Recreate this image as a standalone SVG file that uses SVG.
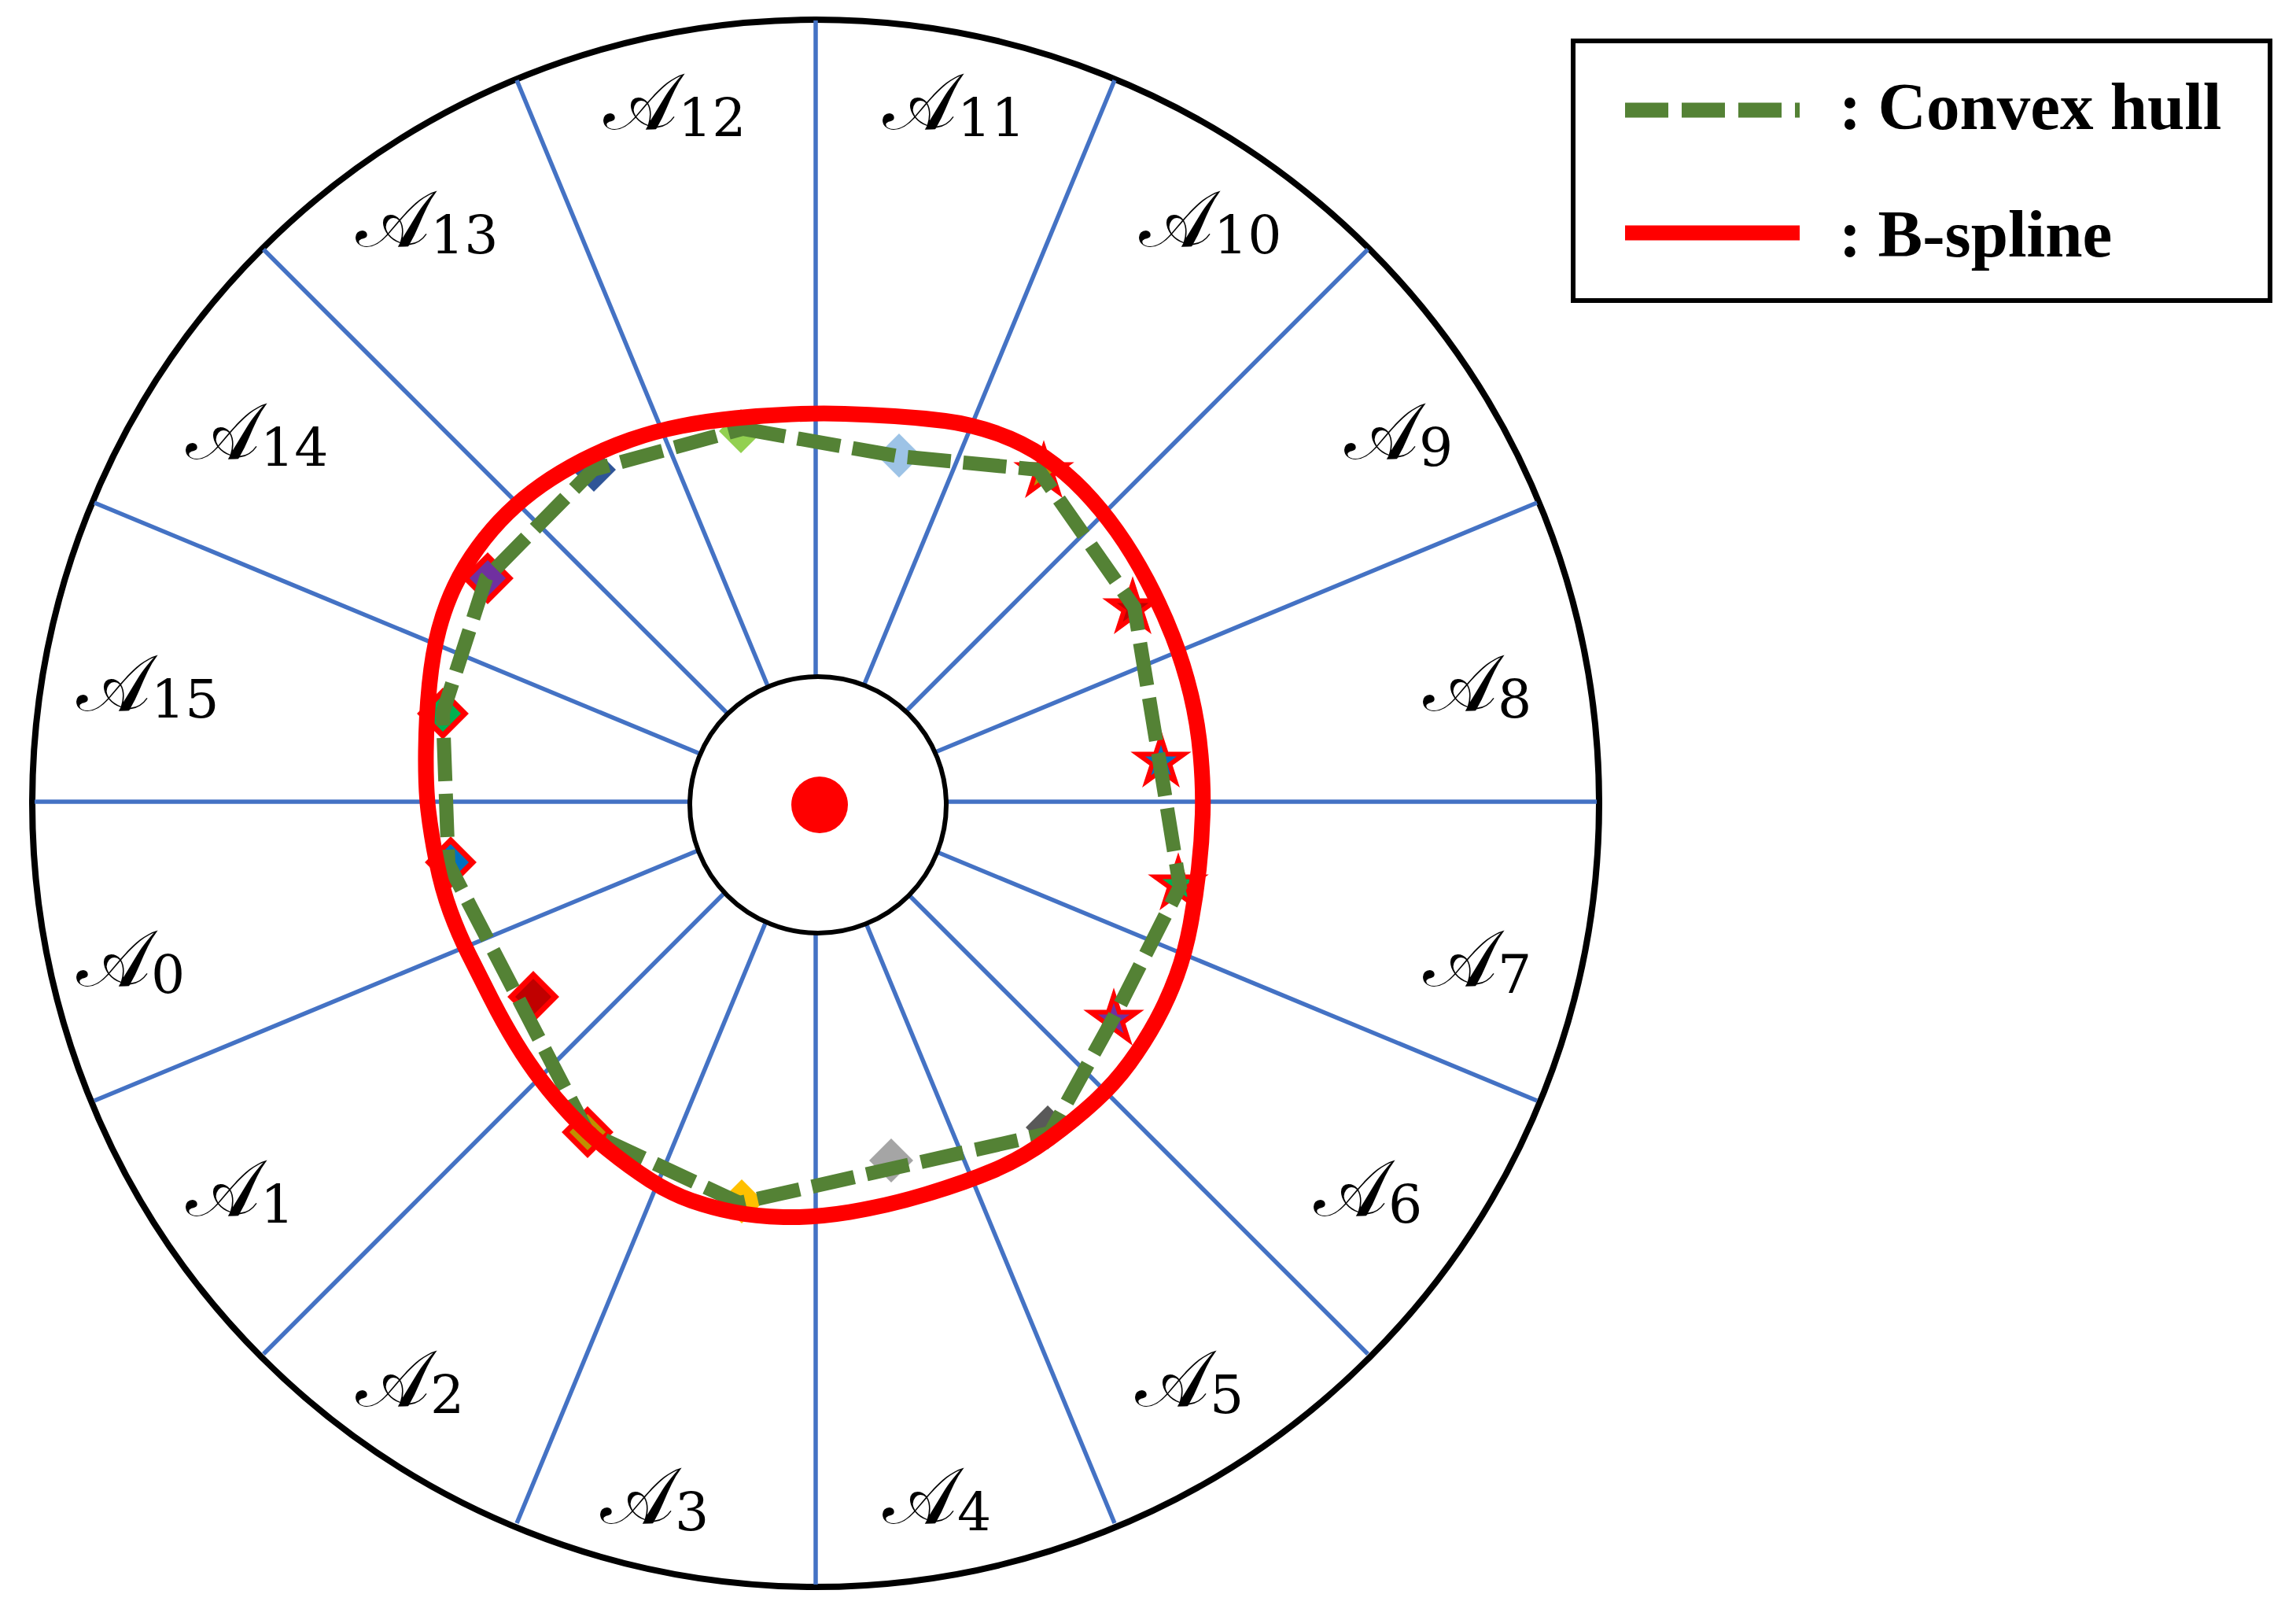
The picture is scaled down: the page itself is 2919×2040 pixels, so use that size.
<svg xmlns="http://www.w3.org/2000/svg" width="2919" height="2040" viewBox="0 0 2919 2040">
<defs>
<style>
.spoke{stroke:#4472C4;stroke-width:5.5;fill:none}
.lbl{font-family:"DejaVu Serif","Liberation Serif",serif;font-size:100px;fill:#000}
.sub{font-family:"DejaVu Serif","Liberation Serif",serif;font-size:68px;fill:#000}
.hull{fill:none;stroke:#548235;stroke-width:18;stroke-dasharray:55 16;stroke-linejoin:miter}
.spline{fill:none;stroke:#FF0000;stroke-width:20;stroke-linejoin:round}
.leg{font-family:"Liberation Serif","Times New Roman",serif;font-weight:bold;font-size:85px;fill:#000}
.ro{stroke:#FF0000;stroke-width:7;stroke-linejoin:miter}
.st{stroke:#FF0000;stroke-width:6;stroke-linejoin:miter;stroke-miterlimit:4}
</style>
<polygon id="dia" points="0,-28 28,0 0,28 -28,0"/>
<polygon id="star" points="0,-31 6.96,-9.58 29.48,-9.58 11.26,3.66 18.23,25.08 0,11.84 -18.23,25.08 -11.26,3.66 -29.48,-9.58 -6.96,-9.58"/>
</defs>
<rect width="2919" height="2040" fill="#FFFFFF"/>
<g id="outer-circle"><circle cx="1037" cy="1021" r="996" fill="#FFFFFF" stroke="#000" stroke-width="8"/></g>
<g id="spokes">
<line class="spoke" x1="1037" y1="1019" x2="1037" y2="26"/>
<line class="spoke" x1="1037" y1="1019" x2="1417" y2="102"/>
<line class="spoke" x1="1037" y1="1019" x2="1739" y2="317"/>
<line class="spoke" x1="1037" y1="1019" x2="1954" y2="639"/>
<line class="spoke" x1="1037" y1="1019" x2="2030" y2="1019"/>
<line class="spoke" x1="1037" y1="1019" x2="1954" y2="1399"/>
<line class="spoke" x1="1037" y1="1019" x2="1739" y2="1721"/>
<line class="spoke" x1="1037" y1="1019" x2="1417" y2="1936"/>
<line class="spoke" x1="1037" y1="1019" x2="1037" y2="2014"/>
<line class="spoke" x1="1037" y1="1019" x2="657" y2="1936"/>
<line class="spoke" x1="1037" y1="1019" x2="335" y2="1721"/>
<line class="spoke" x1="1037" y1="1019" x2="120" y2="1399"/>
<line class="spoke" x1="1037" y1="1019" x2="44" y2="1019"/>
<line class="spoke" x1="1037" y1="1019" x2="120" y2="639"/>
<line class="spoke" x1="1037" y1="1019" x2="335" y2="317"/>
<line class="spoke" x1="1037" y1="1019" x2="657" y2="102"/>
</g>
<g id="inner-circle"><circle cx="1040" cy="1023" r="163" fill="#FFFFFF" stroke="#000" stroke-width="6"/></g>
<g id="center-point"><circle cx="1042" cy="1023" r="36" fill="#FF0000"/></g>
<g id="labels">
<text class="lbl" x="1122" y="164">𝒜<tspan class="sub" dy="9">11</tspan></text>
<text class="lbl" x="767" y="164">𝒜<tspan class="sub" dy="9">12</tspan></text>
<text class="lbl" x="452" y="313">𝒜<tspan class="sub" dy="9">13</tspan></text>
<text class="lbl" x="1448" y="313">𝒜<tspan class="sub" dy="9">10</tspan></text>
<text class="lbl" x="236" y="583">𝒜<tspan class="sub" dy="9">14</tspan></text>
<text class="lbl" x="1709" y="583">𝒜<tspan class="sub" dy="9">9</tspan></text>
<text class="lbl" x="97" y="903">𝒜<tspan class="sub" dy="9">15</tspan></text>
<text class="lbl" x="1809" y="903">𝒜<tspan class="sub" dy="9">8</tspan></text>
<text class="lbl" x="97" y="1253">𝒜<tspan class="sub" dy="9">0</tspan></text>
<text class="lbl" x="1809" y="1253">𝒜<tspan class="sub" dy="9">7</tspan></text>
<text class="lbl" x="236" y="1545">𝒜<tspan class="sub" dy="9">1</tspan></text>
<text class="lbl" x="1670" y="1545">𝒜<tspan class="sub" dy="9">6</tspan></text>
<text class="lbl" x="452" y="1787">𝒜<tspan class="sub" dy="9">2</tspan></text>
<text class="lbl" x="1443" y="1787">𝒜<tspan class="sub" dy="9">5</tspan></text>
<text class="lbl" x="763" y="1936">𝒜<tspan class="sub" dy="9">3</tspan></text>
<text class="lbl" x="1122" y="1936">𝒜<tspan class="sub" dy="9">4</tspan></text>
</g>
<g id="markers">
<use href="#dia" x="942" y="548" fill="#92D050"/>
<use href="#dia" x="1143" y="579" fill="#9DC3E6"/>
<use href="#dia" x="1332" y="1433" fill="#595959"/>
<use href="#dia" x="1133" y="1475" fill="#A5A5A5"/>
<use href="#dia" x="943" y="1527" fill="#FFC000"/>
<use href="#dia" x="755" y="597" fill="#2F5597"/>
<use href="#dia" class="ro" x="747" y="1439" fill="#BF9000"/>
<use href="#dia" class="ro" x="678" y="1267" fill="#C00000"/>
<use href="#dia" class="ro" x="573" y="1096" fill="#0070C0"/>
<use href="#dia" class="ro" x="563" y="907" fill="#00B050"/>
<use href="#dia" class="ro" x="620" y="735" fill="#7030A0"/>
<use href="#star" class="st" x="1327" y="600" fill="#BF9000"/>
<use href="#star" class="st" x="1440" y="773" fill="#C00000"/>
<use href="#star" class="st" x="1476" y="968" fill="#0070C0"/>
<use href="#star" class="st" x="1498" y="1124" fill="#00B050"/>
<use href="#star" class="st" x="1416" y="1296" fill="#7030A0"/>
</g>
<g id="connectors">
<path id="convex-hull" class="hull" d="M944,545 L1143,580 L1320,597 L1442,772 L1474,967 L1500,1127 L1416,1293 L1335,1440 L940,1529 L747,1439 L570,1098 L563,906 L618,735 L754,597 Z"/>
<path id="b-spline" class="spline" d="M1006,526.5 Q1042,525 1073.5,526 Q1105,527 1137.5,529 Q1170,531 1201.5,535 Q1233,539 1266.5,550.5 Q1300,562 1327.5,581 Q1355,600 1377.5,623.5 Q1400,647 1420,675 Q1440,703 1458.5,738 Q1477,773 1491,809 Q1505,845 1514,882.5 Q1523,920 1526.5,960 Q1530,1000 1529,1035 Q1528,1070 1524,1105 Q1520,1140 1513.5,1175 Q1507,1210 1496,1240 Q1485,1270 1470,1297.5 Q1455,1325 1436,1351 Q1417,1377 1392,1400 Q1367,1423 1333.5,1447.5 Q1300,1472 1263.5,1487.5 Q1227,1503 1177,1518 Q1127,1533 1080,1540.5 Q1033,1548 996.5,1547 Q960,1546 932.5,1540.5 Q905,1535 879,1526 Q853,1517 826.5,1500 Q800,1483 773.5,1461.5 Q747,1440 726,1417.5 Q705,1395 688.5,1373.5 Q672,1352 656,1326 Q640,1300 624,1268.5 Q608,1237 595.5,1212 Q583,1187 572.5,1158.5 Q562,1130 555,1095 Q548,1060 544.5,1030 Q541,1000 541.5,955 Q542,910 546,870 Q550,830 558,800 Q566,770 578,745 Q590,720 607.5,696 Q625,672 645,652.5 Q665,633 688.5,616.5 Q712,600 741,585 Q770,570 801.5,559 Q833,548 866.5,541.5 Q900,535 935,531.5 Q970,528 1006,526.5 Z"/>
</g>
<g id="legend">
<rect x="2000" y="52" width="886" height="330" fill="#FFFFFF" stroke="#000" stroke-width="6"/>
<line x1="2066" y1="140" x2="2288" y2="140" stroke="#548235" stroke-width="19" stroke-dasharray="55 17"/>
<line x1="2066" y1="296" x2="2288" y2="296" stroke="#FF0000" stroke-width="19"/>
<text class="leg" x="2338" y="164">: Convex hull</text>
<text class="leg" x="2338" y="326">: B-spline</text>
</g>
</svg>
